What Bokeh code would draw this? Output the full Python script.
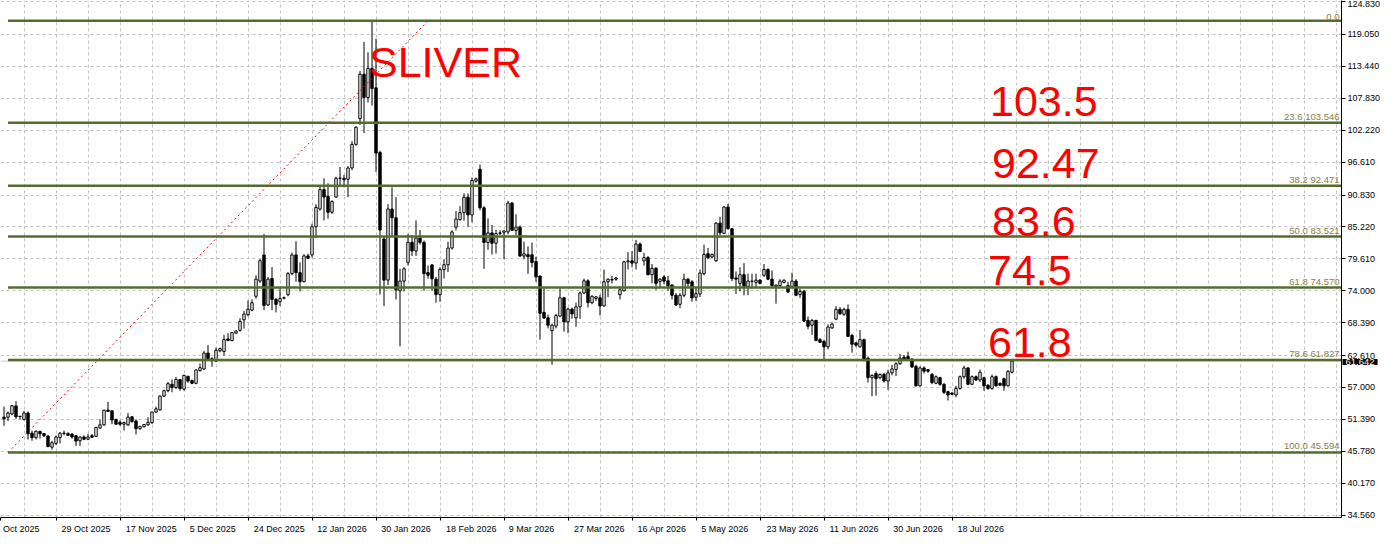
from bokeh.plotting import figure
from bokeh.models import Range1d, FixedTicker, NumeralTickFormatter, Label, Span
from bokeh.embed import file_html
from bokeh.resources import INLINE
from bokeh.core.properties import value

# ---- candle data (daily bars) ----
opens = [51.78, 51.78, 52.34, 53.75, 51.95, 51.39, 52.51, 48.98, 48.19, 49.26,
         48.92, 48.47, 46.51, 47.18, 48.19, 48.92, 48.92, 48.81, 48.53, 47.63,
         48.30, 47.91, 48.53, 48.42, 49.88, 50.44, 53.02, 52.90, 51.39, 50.88,
         50.55, 50.44, 51.84, 51.11, 49.76, 50.10, 50.44, 50.83, 52.68, 53.07,
         55.49, 56.44, 57.56, 57.00, 58.40, 56.72, 58.96, 58.23, 57.73, 59.97,
         60.25, 63.06, 62.05, 61.66, 63.45, 63.34, 65.53, 65.25, 66.54, 67.04,
         68.89, 69.80, 70.59, 73.03, 75.70, 80.30, 71.50, 76.16, 72.47, 72.07,
         72.70, 73.32, 77.01, 80.30, 77.18, 75.59, 80.13, 80.30, 85.25, 88.37,
         91.78, 90.59, 87.80, 90.47, 93.77, 93.77, 93.60, 95.58, 99.73, 104.27,
         112.06, 107.97, 113.08, 109.67, 98.31, 83.09, 75.87, 88.37, 86.84, 74.00,
         75.70, 79.00, 82.52, 80.99, 83.26, 82.52, 77.18, 78.54, 76.03, 73.32,
         77.73, 78.58, 81.51, 85.19, 86.49, 87.73, 90.44, 87.33, 93.26, 95.36,
         88.58, 82.48, 84.17, 82.36, 84.10, 84.28, 84.34, 89.42, 84.62, 85.19,
         80.10, 80.33, 80.33, 79.14, 76.60, 70.21, 69.25, 66.99, 67.79, 69.54,
         72.76, 68.52, 70.78, 69.25, 71.18, 73.60, 75.75, 71.91, 72.64, 72.76,
         71.34, 75.58, 75.90, 76.03, 73.32, 74.00, 79.09, 79.26, 78.87, 82.21,
         79.26, 79.83, 76.83, 77.96, 75.64, 76.43, 75.75, 75.02, 73.21, 71.62,
         73.21, 76.04, 75.58, 72.87, 73.43, 77.00, 80.51, 79.94, 79.26, 85.89,
         84.08, 88.72, 84.92, 76.26, 75.30, 76.83, 74.74, 75.64, 75.47, 75.87,
         76.72, 77.74, 76.04, 74.74, 74.91, 75.47, 74.91, 74.74, 75.70, 73.32,
         73.89, 68.79, 67.94, 68.79, 65.40, 65.11, 64.15, 67.47, 69.01, 70.73,
         69.87, 70.73, 66.15, 64.84, 64.15, 65.41, 62.15, 58.72, 59.46, 58.72,
         59.29, 58.14, 59.57, 60.15, 61.18, 62.32, 62.43, 61.98, 60.72, 57.29,
         60.43, 60.15, 59.29, 57.74, 58.72, 57.57, 56.26, 56.03, 55.68, 56.83,
         58.89, 60.43, 57.57, 58.89, 58.32, 58.72, 57.40, 56.83, 58.89, 57.74,
         58.54, 57.29, 59.69]
highs = [53.63, 52.79, 53.91, 54.59, 51.95, 52.90, 52.79, 49.43, 49.43, 49.43,
         48.98, 48.59, 47.63, 48.59, 49.15, 49.43, 49.15, 48.98, 48.59, 48.42,
         48.59, 48.87, 48.81, 50.10, 51.39, 53.07, 54.48, 52.95, 51.50, 51.22,
         51.00, 52.51, 51.95, 51.39, 50.27, 50.60, 51.78, 52.75, 53.63, 55.60,
         56.61, 57.95, 58.40, 58.85, 58.51, 59.25, 59.08, 58.40, 60.15, 61.21,
         63.45, 64.46, 62.33, 64.01, 64.01, 66.26, 66.54, 66.76, 67.10, 69.17,
         70.48, 72.30, 72.47, 76.73, 79.57, 84.00, 76.44, 78.15, 72.75, 74.45,
         72.98, 77.29, 80.70, 82.69, 79.00, 80.42, 80.50, 85.81, 89.22, 92.35,
         93.77, 92.91, 89.90, 94.05, 95.75, 94.33, 95.92, 100.30, 102.90, 112.62,
         117.74, 115.92, 121.45, 118.30, 98.59, 83.54, 89.22, 92.18, 90.47, 77.86,
         78.15, 84.00, 83.83, 86.38, 84.68, 82.81, 78.43, 78.71, 76.43, 78.12,
         79.54, 82.64, 84.62, 88.01, 88.86, 91.12, 91.12, 93.94, 93.90, 96.20,
         88.86, 86.71, 85.58, 84.73, 84.62, 84.62, 89.82, 89.59, 87.45, 85.47,
         82.64, 81.80, 82.48, 79.99, 76.60, 74.45, 69.82, 68.24, 69.93, 74.45,
         72.93, 71.06, 71.06, 71.91, 73.89, 76.15, 76.03, 73.21, 73.04, 73.32,
         77.73, 76.15, 76.60, 76.43, 74.73, 79.26, 80.79, 80.96, 82.94, 82.49,
         80.68, 80.11, 78.70, 78.13, 76.21, 76.72, 76.60, 75.13, 73.60, 73.60,
         77.00, 76.26, 75.87, 74.45, 77.74, 82.09, 81.53, 80.51, 86.06, 87.02,
         88.89, 89.28, 85.00, 77.40, 78.13, 78.87, 77.00, 77.00, 77.00, 76.04,
         78.70, 77.96, 77.57, 75.02, 76.04, 75.98, 75.58, 77.17, 76.04, 74.34,
         74.17, 69.47, 69.07, 68.90, 65.68, 65.40, 68.11, 68.44, 71.30, 71.13,
         71.01, 71.59, 66.44, 65.01, 67.12, 65.58, 62.43, 59.29, 59.86, 59.46,
         59.57, 60.15, 61.00, 61.41, 62.89, 62.72, 63.29, 62.15, 61.00, 60.72,
         60.72, 60.26, 59.57, 59.12, 58.89, 57.74, 56.43, 56.14, 57.29, 59.12,
         60.83, 60.60, 59.12, 59.12, 60.15, 58.89, 57.57, 59.29, 59.12, 57.86,
         58.72, 60.03, 61.86]
lows = [50.27, 51.11, 52.12, 51.50, 51.39, 51.22, 47.86, 47.63, 47.86, 48.02,
        48.30, 46.51, 46.06, 46.90, 47.18, 48.59, 48.53, 48.02, 46.73, 46.73,
        47.74, 47.74, 48.19, 48.30, 49.70, 50.27, 52.68, 50.55, 50.44, 50.27,
        49.43, 50.27, 50.83, 48.75, 49.60, 49.99, 50.27, 50.60, 52.51, 52.95,
        55.32, 56.16, 56.16, 56.72, 56.44, 56.44, 57.84, 57.56, 57.56, 59.81,
        60.09, 61.88, 60.65, 61.49, 63.17, 62.61, 65.14, 65.14, 66.40, 66.82,
        67.35, 69.50, 70.40, 72.60, 75.40, 70.60, 71.33, 70.59, 70.19, 71.33,
        72.47, 73.03, 76.73, 75.59, 73.89, 75.48, 79.60, 79.85, 83.26, 88.10,
        86.38, 86.67, 87.50, 90.36, 92.35, 92.18, 90.47, 95.19, 99.50, 103.14,
        101.72, 107.11, 106.55, 94.90, 73.32, 71.33, 75.02, 83.54, 72.47, 64.23,
        73.89, 78.43, 80.13, 80.13, 82.12, 74.00, 76.16, 74.00, 71.91, 72.08,
        76.15, 77.28, 81.23, 84.62, 86.32, 86.32, 85.19, 86.03, 93.00, 88.13,
        77.84, 81.23, 80.38, 80.55, 83.77, 79.54, 83.94, 84.51, 83.77, 79.99,
        79.54, 76.99, 78.12, 75.58, 65.41, 69.08, 67.39, 61.00, 67.39, 69.37,
        66.82, 66.54, 69.08, 67.67, 69.08, 73.43, 71.06, 71.63, 72.19, 69.65,
        71.18, 72.87, 75.30, 75.75, 72.47, 73.89, 77.74, 78.13, 77.74, 80.79,
        78.42, 76.72, 75.30, 74.17, 74.45, 75.13, 74.00, 72.47, 71.34, 70.94,
        72.87, 74.45, 72.08, 72.19, 72.87, 76.72, 79.55, 79.72, 79.09, 83.79,
        83.96, 84.75, 75.70, 73.43, 73.89, 73.21, 73.21, 74.34, 74.45, 75.13,
        76.43, 75.87, 74.57, 71.74, 74.74, 75.30, 73.60, 74.45, 73.04, 72.75,
        68.51, 67.21, 66.25, 65.11, 64.83, 61.65, 63.70, 67.30, 68.84, 69.76,
        69.58, 65.87, 63.12, 64.15, 64.04, 61.58, 57.86, 55.46, 55.57, 58.43,
        57.86, 56.60, 59.12, 59.00, 61.00, 61.75, 61.75, 60.43, 57.17, 57.17,
        59.46, 59.57, 57.57, 57.57, 57.29, 55.86, 54.71, 55.68, 55.29, 56.60,
        58.54, 57.40, 57.40, 58.14, 57.97, 56.43, 56.60, 56.60, 57.17, 57.29,
        56.43, 57.17, 59.46]
closes = [51.50, 52.51, 53.80, 51.84, 51.90, 52.51, 48.87, 48.19, 49.31, 48.87,
          48.53, 46.62, 47.29, 48.30, 48.98, 48.98, 48.59, 48.30, 47.58, 48.30,
          47.91, 48.30, 48.25, 49.99, 50.44, 53.02, 52.79, 51.28, 50.55, 50.55,
          50.83, 51.78, 51.00, 49.76, 50.16, 50.49, 50.88, 52.68, 53.24, 55.49,
          56.44, 57.67, 57.00, 58.40, 56.83, 59.13, 58.12, 57.73, 60.09, 60.48,
          63.06, 62.05, 61.99, 63.56, 63.84, 65.42, 65.25, 66.65, 66.93, 68.61,
          69.91, 70.76, 71.90, 76.04, 79.28, 71.44, 76.04, 72.47, 71.61, 72.64,
          72.80, 77.01, 80.30, 77.18, 75.59, 80.13, 79.73, 85.25, 88.65, 91.78,
          90.47, 87.80, 89.68, 93.77, 93.80, 93.54, 95.58, 99.73, 102.74, 112.06,
          107.97, 113.08, 109.56, 98.20, 84.68, 75.87, 88.37, 86.84, 74.17, 75.70,
          77.86, 82.52, 80.99, 83.26, 82.52, 77.01, 76.73, 76.10, 73.32, 77.73,
          78.58, 81.51, 84.34, 86.60, 87.73, 90.44, 87.33, 93.38, 93.66, 88.58,
          82.48, 84.17, 82.36, 84.06, 84.17, 84.51, 89.42, 84.62, 85.19, 80.10,
          80.50, 79.99, 78.97, 76.43, 70.04, 69.20, 67.95, 67.95, 69.65, 72.76,
          68.52, 70.78, 69.93, 71.18, 73.60, 75.75, 71.91, 73.04, 72.93, 71.34,
          75.58, 76.03, 75.98, 76.26, 74.17, 79.09, 79.26, 78.87, 82.21, 80.91,
          79.83, 76.83, 77.96, 75.30, 76.04, 75.70, 74.91, 73.21, 71.51, 73.21,
          76.04, 75.30, 72.75, 73.49, 77.11, 80.40, 79.83, 80.40, 85.89, 84.19,
          88.72, 84.92, 76.15, 76.04, 76.83, 74.74, 75.70, 75.70, 75.87, 75.30,
          77.74, 76.04, 74.91, 75.02, 75.70, 75.87, 73.77, 75.70, 73.21, 73.89,
          68.68, 67.77, 68.79, 65.28, 64.94, 64.15, 67.62, 68.15, 70.73, 69.98,
          70.73, 65.98, 64.61, 64.44, 65.41, 61.86, 58.72, 59.12, 58.54, 59.29,
          58.14, 59.57, 60.26, 61.18, 62.15, 61.86, 61.98, 60.60, 57.29, 60.43,
          59.86, 59.86, 57.86, 58.89, 57.57, 56.14, 55.68, 55.80, 56.83, 58.89,
          60.43, 57.57, 58.89, 58.32, 59.69, 57.29, 56.83, 58.89, 57.29, 57.40,
          57.29, 59.86, 61.64]

# ---- Fibonacci retracement ----
fib_pcts = [0.0, 23.6, 38.2, 50.0, 61.8, 78.6, 100.0]
fib_prices = [121.447, 103.546, 92.471, 83.521, 74.570, 61.827, 45.594]
fib_low_bar, fib_high_bar = 1, 106

# ---- axes ----
y_ticks = [34.56, 40.17, 45.78, 51.39, 57.0, 62.61, 68.39, 74.0, 79.61, 85.22,
           90.83, 96.61, 102.22, 107.83, 113.44, 119.05, 124.83]
date_labels = ["Oct 2025", "29 Oct 2025", "17 Nov 2025", "5 Dec 2025", "24 Dec 2025",
               "12 Jan 2026", "30 Jan 2026", "18 Feb 2026", "9 Mar 2026", "27 Mar 2026",
               "16 Apr 2026", "5 May 2026", "23 May 2026", "11 Jun 2026", "30 Jun 2026",
               "18 Jul 2026"]
date_label_bars = [-3 + 16 * k for k in range(len(date_labels))]
grid_bars = [-3 + 8 * k for k in range(44)]
last_price = 61.642

title_text = "SLIVER"
level_notes = ["103.5", "92.47", "83.6", "74.5", "61.8"]

# ---- figure ----
FW, FH = 1341, 517
PX_PER_BAR = 4
x0 = -0.875
x1 = x0 + FW / PX_PER_BAR
y0, y1 = 34.15, 125.02
px_per_unit = FH / (y1 - y0)

p = figure(frame_width=FW, frame_height=FH, x_range=Range1d(x0, x1),
           y_range=Range1d(y0, y1), y_axis_location="right",
           output_backend="svg", toolbar_location=None,
           min_border_left=0, min_border_top=0, min_border_right=42, min_border_bottom=21)
p.outline_line_color = None
p.background_fill_color = "white"

grid_style = dict(grid_line_color="#c0c0c0", grid_line_dash="3 3", grid_line_width=1)
p.xgrid.ticker = FixedTicker(ticks=grid_bars)
p.ygrid.ticker = FixedTicker(ticks=y_ticks)
for g in (p.xgrid, p.ygrid):
    for k, v in grid_style.items():
        setattr(g, k, v)

SMALL_FONT = "Liberation Sans"
SMALL_SIZE = 9

ya = p.yaxis[0]
ya.ticker = FixedTicker(ticks=y_ticks)
ya.formatter = NumeralTickFormatter(format="0.000")
ya.major_label_text_font = SMALL_FONT
ya.major_label_text_font_size = "%gpx" % SMALL_SIZE
ya.major_label_text_color = "black"
ya.axis_line_color = "black"
ya.major_tick_out = 4
ya.major_tick_in = 0
ya.minor_tick_out = 0
ya.minor_tick_in = 0
ya.major_label_standoff = 2

# bottom axis: MT4 draws the date text starting at the tick, so the centred
# tick labels are padded with leading no-break spaces to push them right.
ADV = {"0": .556, "1": .556, "2": .556, "3": .556, "4": .556, "5": .556, "6": .556,
       "7": .556, "8": .556, "9": .556, " ": .278, "O": .778, "c": .5, "t": .278,
       "N": .722, "o": .556, "v": .5, "D": .722, "e": .556, "J": .5, "a": .556,
       "n": .556, "F": .611, "b": .556, "M": .833, "r": .333, "A": .667, "p": .556,
       "y": .5, "u": .556, "l": .222}
NBSP = "\u00a0"
NBSP_W = 0.231 * SMALL_SIZE   # effective rendered width of one no-break space


def text_w(s):
    return sum(ADV.get(ch, .556) for ch in s) * SMALL_SIZE


def left_aligned(s, gap=0.5):
    n = int(round((text_w(s) + 2 * gap) / NBSP_W))
    return NBSP * n + s


tick_pos = [x0 + 0.01] + date_label_bars[1:]
overrides = {}
for k, (b, t) in enumerate(zip(tick_pos, date_labels)):
    # the first (cut-off) label is pushed against the left edge of the canvas
    overrides[b] = (NBSP + t) if k == 0 else left_aligned(t)

xa = p.xaxis[0]
xa.ticker = FixedTicker(ticks=tick_pos)
xa.major_label_overrides = overrides
xa.major_label_text_font = SMALL_FONT
xa.major_label_text_font_size = "%gpx" % SMALL_SIZE
xa.major_label_text_color = "black"
xa.major_label_standoff = 3
xa.axis_line_color = "black"
xa.major_tick_out = 3
xa.major_tick_in = 0
xa.minor_tick_out = 0
xa.minor_tick_in = 0

# bid line
p.add_layout(Span(location=last_price, dimension="width", line_color="#c8c8c8",
                  line_width=1, level="underlay"))

# candles
bars = list(range(len(opens)))
p.segment(x0=bars, y0=highs, x1=bars, y1=lows, line_color="black", line_width=1)
up = [i for i in bars if closes[i] >= opens[i]]
dn = [i for i in bars if closes[i] < opens[i]]
p.vbar(x=up, width=0.6, top=[closes[i] for i in up], bottom=[opens[i] for i in up],
       fill_color="white", line_color="black", line_width=1)
p.vbar(x=dn, width=0.6, top=[opens[i] for i in dn], bottom=[closes[i] for i in dn],
       fill_color="black", line_color="black", line_width=1)

# fib trend line (dotted red)
p.line(x=[fib_low_bar, fib_high_bar], y=[fib_prices[-1], fib_prices[0]],
       line_color="red", line_dash="2 3", line_width=1)

# fib levels
p.segment(x0=[fib_low_bar] * len(fib_prices), y0=fib_prices,
          x1=[x1 + 5] * len(fib_prices), y1=fib_prices,
          line_color="#556B2F", line_width=2.5)
fib_texts = ["%.1f" % fib_pcts[0]] + ["%.1f %.3f" % (a, b) for a, b in zip(fib_pcts[1:], fib_prices[1:])]
p.text(x=[x1] * len(fib_prices), y=fib_prices, text=fib_texts,
       text_align="right", text_baseline="bottom", x_offset=-2, y_offset=-1,
       text_font=value(SMALL_FONT), text_font_size="9.5px", text_color="#85804a")

# last price box (in the right-hand panel so it is not clipped to the frame)
p.add_layout(Label(x=x1, y=last_price, x_offset=1, y_offset=-1, text="%.3f" % last_price,
                   text_align="left", text_baseline="middle",
                   text_font=SMALL_FONT, text_font_size="9.5px",
                   text_color="white", background_fill_color="black", padding=(3, 0)), "right")

# big red annotations
big = dict(text_font="Liberation Sans", text_font_size="43px", text_color="#ff0000",
           text_align="left", text_baseline="alphabetic")
lift = 9 / px_per_unit
p.add_layout(Label(x=91.25, y=112.6 + lift, text=title_text, **big))
note_pos = [(246.5, 105.7), (247.0, 94.85), (247.0, 84.62), (246.0, 75.92), (246.0, 63.31)]
for (bx, by), t in zip(note_pos, level_notes):
    p.add_layout(Label(x=bx, y=by + lift, text=t, **big))

open("out.html", "w").write(file_html(p, INLINE))
